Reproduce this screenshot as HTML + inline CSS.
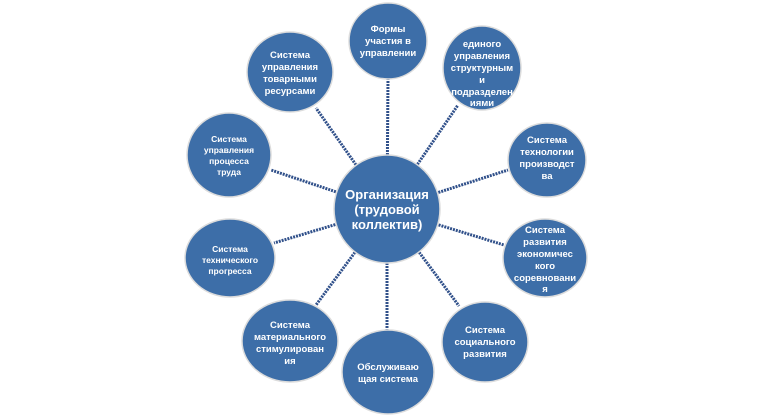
<!DOCTYPE html>
<html><head><meta charset="utf-8"><style>
html,body{margin:0;padding:0;background:#fff;width:771px;height:417px;overflow:hidden}
text{font-family:"Liberation Sans","DejaVu Sans",sans-serif;fill:#fff;font-weight:bold;text-anchor:middle}
</style></head><body>
<svg width="771" height="417" viewBox="0 0 771 417" xmlns="http://www.w3.org/2000/svg">
<g stroke="#30508a" stroke-width="3" stroke-dasharray="2 1">
<line x1="387" y1="209" x2="388" y2="78"/>
<line x1="387" y1="209" x2="316" y2="108"/>
<line x1="387" y1="209" x2="458" y2="105"/>
<line x1="387" y1="209" x2="271" y2="170"/>
<line x1="387" y1="209" x2="508" y2="170"/>
<line x1="387" y1="209" x2="274" y2="243"/>
<line x1="387" y1="209" x2="504" y2="245"/>
<line x1="387" y1="209" x2="316" y2="305"/>
<line x1="387" y1="209" x2="387" y2="330"/>
<line x1="387" y1="209" x2="459" y2="306"/>
</g>
<g fill="#3d6ea8" stroke="#dcdcdc" stroke-width="1.5">
<ellipse cx="387" cy="209" rx="53" ry="54"/>
<ellipse cx="388" cy="41" rx="39" ry="38"/>
<ellipse cx="290" cy="72" rx="43" ry="40"/>
<ellipse cx="482" cy="68" rx="39" ry="42"/>
<ellipse cx="229" cy="155" rx="42" ry="42"/>
<ellipse cx="547" cy="160" rx="39" ry="37"/>
<ellipse cx="230" cy="258" rx="45" ry="39"/>
<ellipse cx="545" cy="258" rx="42" ry="39"/>
<ellipse cx="290" cy="341" rx="48" ry="41"/>
<ellipse cx="388" cy="372" rx="46" ry="42"/>
<ellipse cx="485" cy="342" rx="43" ry="40"/>
</g>
<g font-size="13"><text x="387" y="199">Организация</text><text x="387" y="214">(трудовой</text><text x="387" y="229">коллектив)</text></g>
<g font-size="9.5">
<text x="388" y="32">Формы</text><text x="388" y="44">участия в</text><text x="388" y="56">управлении</text>
<text x="290" y="58">Система</text><text x="290" y="70">управления</text><text x="290" y="82">товарными</text><text x="290" y="94">ресурсами</text>
<text x="482" y="47">единого</text><text x="482" y="59">управления</text><text x="482" y="71">структурным</text><text x="482" y="83">и</text><text x="482" y="95">подразделен</text><text x="482" y="106">иями</text>
<text x="229" y="142" font-size="8.5">Система</text><text x="229" y="153" font-size="8.5">управления</text><text x="229" y="164" font-size="8.5">процесса</text><text x="229" y="175" font-size="8.5">труда</text>
<text x="547" y="143">Система</text><text x="547" y="155">технологии</text><text x="547" y="167">производст</text><text x="547" y="179">ва</text>
<text x="230" y="252" font-size="8.5">Система</text><text x="230" y="263" font-size="8.5">технического</text><text x="230" y="274" font-size="8.5">прогресса</text>
<text x="545" y="233">Система</text><text x="545" y="245">развития</text><text x="545" y="257">экономичес</text><text x="545" y="269">кого</text><text x="545" y="281">соревновани</text><text x="545" y="292">я</text>
<text x="290" y="328">Система</text><text x="290" y="340">материального</text><text x="290" y="352">стимулирован</text><text x="290" y="364">ия</text>
<text x="388" y="370">Обслуживаю</text><text x="388" y="382">щая система</text>
<text x="485" y="333">Система</text><text x="485" y="345">социального</text><text x="485" y="357">развития</text>
</g>
</svg>
</body></html>
